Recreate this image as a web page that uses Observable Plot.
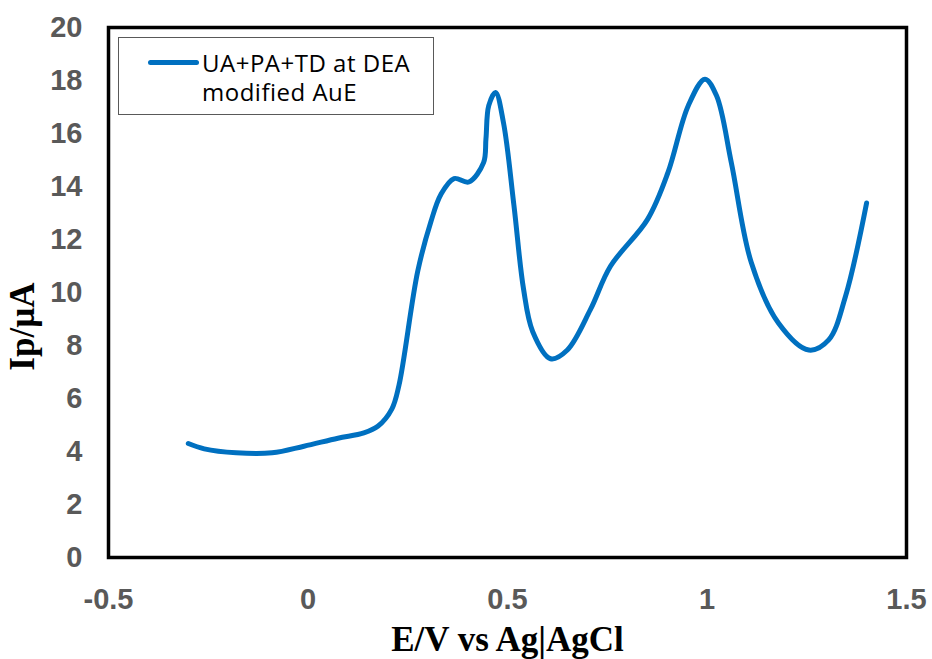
<!DOCTYPE html>
<html>
<head>
<meta charset="utf-8">
<script src="https://cdn.jsdelivr.net/npm/d3@7"></script>
<script src="https://cdn.jsdelivr.net/npm/@observablehq/plot@0.6"></script>
<style>
  html, body { margin: 0; padding: 0; background: #fff; }
  #wrap { position: relative; width: 932px; height: 659px; }
  #legend { position: absolute; left: 118px; top: 37px; width: 316px; height: 78px;
    border: 1px solid #595959; background: #fff; box-sizing: border-box;
    font-family: "Open Sans", sans-serif; font-size: 24px; color: #000; }
  #legend .sw { position: absolute; left: 29px; top: 22px; width: 51px; height: 5px; background: #0070c0; border-radius: 3px; }
  #legend .txt { position: absolute; left: 83px; top: 10px; width: 228px; line-height: 29px; letter-spacing: 0.5px; }
</style>
</head>
<body>
<div id="wrap"></div>
<script>
const seriesName = "UA+PA+TD at DEA modified AuE";
const potential = [-0.30, -0.26, -0.18, -0.09, -0.01, 0.075, 0.14, 0.175, 0.21, 0.228,
  0.275, 0.308, 0.333, 0.366, 0.403, 0.44, 0.446, 0.453, 0.47, 0.49, 0.516, 0.54, 0.563, 0.608,
  0.65, 0.708, 0.758, 0.851, 0.902, 0.953, 0.995, 1.024, 1.061, 1.111, 1.179, 1.255, 1.305, 1.347, 1.40];
const current = [4.3, 4.1, 3.95, 3.95, 4.2, 4.5, 4.7, 4.95, 5.6, 6.5,
  10.8, 12.67, 13.7, 14.3, 14.17, 14.9, 15.8, 17.05, 17.55, 16.4, 13.3, 10.15, 8.53, 7.5,
  7.83, 9.36, 10.99, 12.76, 14.52, 17.05, 18.05, 17.42, 14.9, 11.13, 8.85, 7.83, 8.21, 9.85, 13.38];
const xTicks = [-0.5, 0, 0.5, 1, 1.5];
const yTicks = [0, 2, 4, 6, 8, 10, 12, 14, 16, 18, 20];
const xTitle = "E/V vs Ag|AgCl";
const yTitle = "Ip/µA";

const data = potential.map((x, i) => ({x, y: current[i]}));

const chart = Plot.plot({
  width: 932,
  height: 659,
  marginLeft: 108,
  marginRight: 26,
  marginTop: 27,
  marginBottom: 102,
  x: {domain: [-0.5, 1.5]},
  y: {domain: [0, 20]},
  style: {background: "#fff"},
  marks: [
    Plot.axisX(xTicks, {tickSize: 0, tickPadding: 31, label: null, fontSize: 29, fontWeight: "bold",
      fontFamily: "Liberation Sans, Arial, sans-serif", fill: "#595959", tickFormat: d => String(d)}),
    Plot.axisY(yTicks, {tickSize: 0, tickPadding: 26, label: null, fontSize: 29, fontWeight: "bold",
      fontFamily: "Liberation Sans, Arial, sans-serif", fill: "#595959"}),
    Plot.line(data, {x: "x", y: "y", stroke: "#0070c0", strokeWidth: 5, curve: "catmull-rom", strokeLinecap: "round", strokeLinejoin: "round"}),
    Plot.frame({stroke: "#000", strokeWidth: 3.5}),
    Plot.text([xTitle], {frameAnchor: "bottom", lineAnchor: "middle", dy: 82, text: d => d, fontSize: 35, fontWeight: "bold",
      fontFamily: "Liberation Serif, Times New Roman, serif", fill: "#000"}),
    Plot.text([yTitle], {frameAnchor: "left", textAnchor: "middle", lineAnchor: "middle", dx: -86, dy: 34, rotate: -90, text: d => d, fontSize: 35, fontWeight: "bold",
      fontFamily: "Liberation Serif, Times New Roman, serif", fill: "#000"})
  ]
});

const wrap = document.getElementById("wrap");
wrap.appendChild(chart);
const leg = document.createElement("div");
leg.id = "legend";
leg.innerHTML = `<div class="sw"></div><div class="txt">UA+PA+TD at DEA modified AuE</div>`;
wrap.appendChild(leg);
</script>
</body>
</html>
